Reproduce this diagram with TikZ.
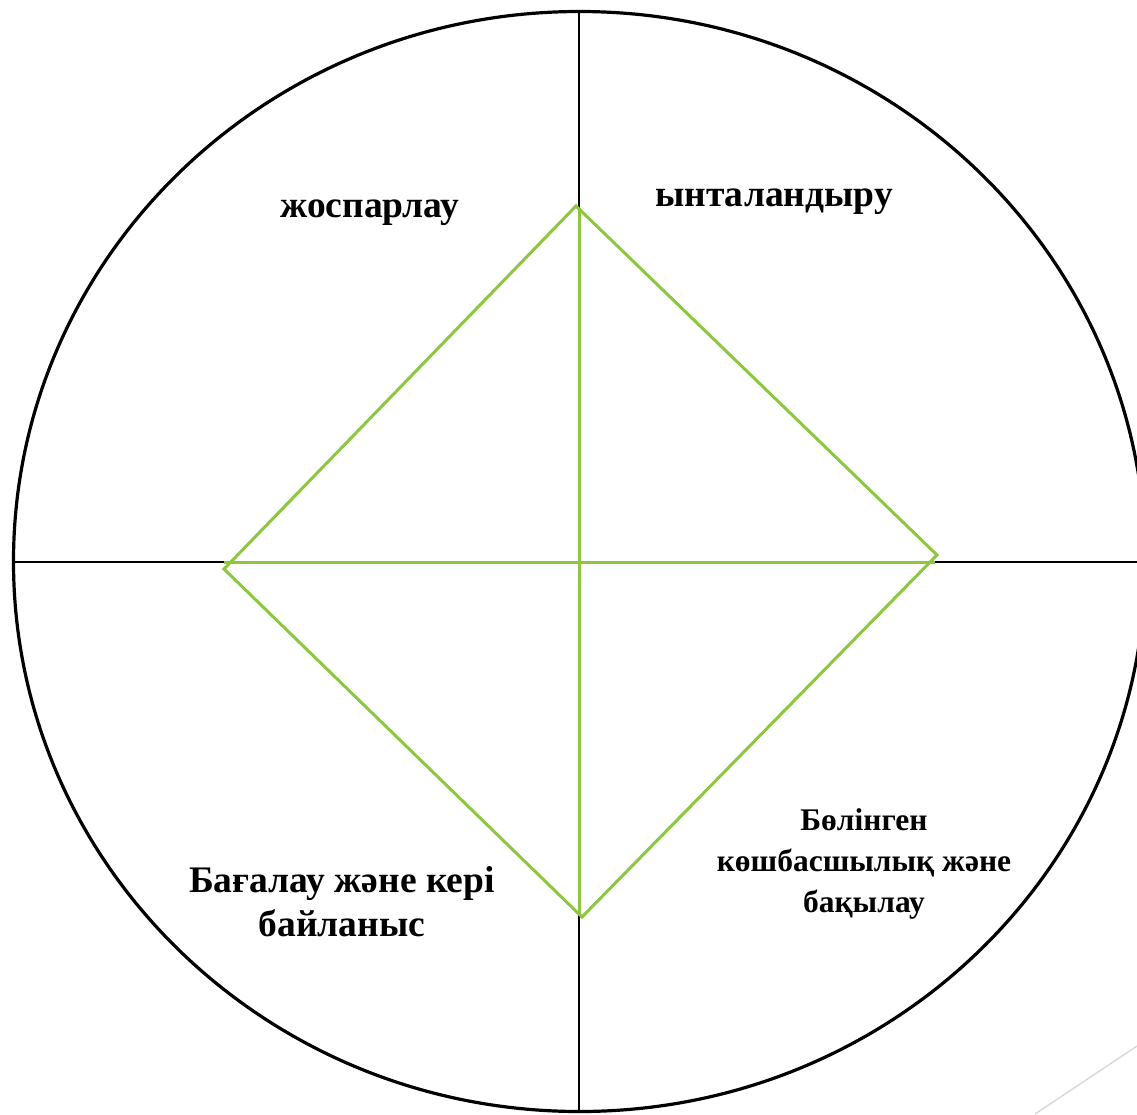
\documentclass[tikz,border=0pt]{standalone}
\usepackage{fontspec}
\setmainfont{Liberation Serif}
\definecolor{dgreen}{RGB}{141,198,63}
\definecolor{lgray}{RGB}{217,217,217}
\begin{document}
\begin{tikzpicture}[x=1pt,y=-1pt,
  axis/.style={black,line width=2.2pt},
  rim/.style={black,line width=3.2pt},
  dia/.style={dgreen,line width=3pt,line join=miter},
  lbl/.style={font=\bfseries\fontsize{37.5}{44}\selectfont,align=center,inner sep=0pt},
  lbls/.style={font=\bfseries\fontsize{31.5}{41}\selectfont,align=center,inner sep=0pt}]
\useasboundingbox (0,0) rectangle (1137,1114);
\begin{scope}
\clip (0,0) rectangle (1137,1114);
\coordinate (c) at (579.5,561.5);
\draw[rim] (c) ellipse [x radius=566, y radius=550];
\coordinate (vt) at (579,11);
\coordinate (vb) at (579,1112);
\coordinate (hl) at (13,562);
\coordinate (hr) at (1140,562);
\draw[axis] (vt) -- (vb);
\draw[axis] (hl) -- (hr);
\coordinate (dT) at (576,206);
\coordinate (dR) at (937,555);
\coordinate (dB) at (582,917);
\coordinate (dL) at (224,569);
\coordinate (gT) at (579.5,208);
\coordinate (gB) at (579.5,915);
\coordinate (gL) at (224,562);
\coordinate (gR) at (935,562);
\draw[dia] (gT) -- (gB);
\draw[dia] (gL) -- (gR);
\draw[dia] (dT) -- (dR) -- (dB) -- (dL) -- cycle;
\coordinate (s1) at (1137,1046);
\coordinate (s2) at (1035,1114);
\draw[lgray,line width=1.5pt] (s1) -- (s2);
\end{scope}
\node[lbl] (plan) at (370,213) {жоспарлау};
\node[lbl] (motiv) at (774,202) {ынталандыру};
\node[lbls] (lead) at (864,864) {Бөлінген\\көшбасшылық және\\бақылау};
\node[lbl] (eval) at (342,902) {Бағалау және кері\\байланыс};
\end{tikzpicture}
\end{document}
